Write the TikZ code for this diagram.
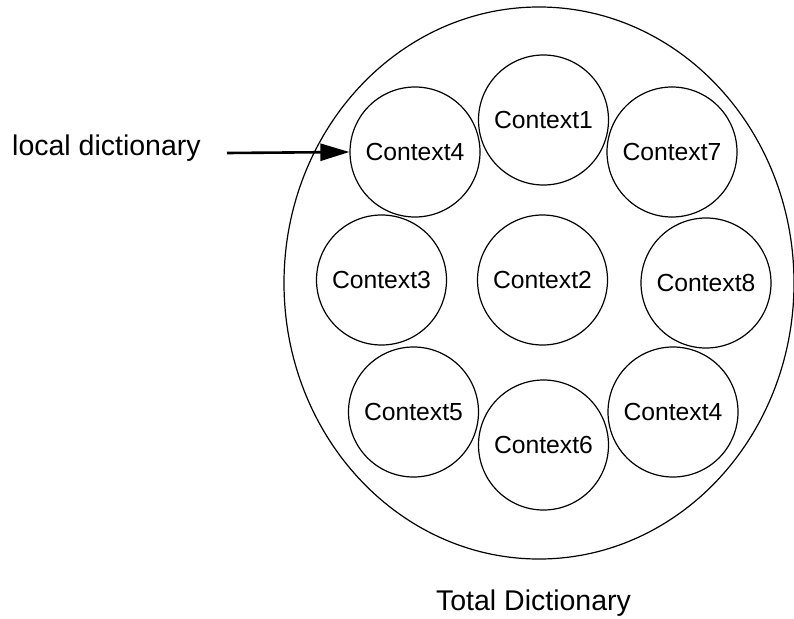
\documentclass[tikz,border=0pt]{standalone}
\usepackage{fontspec}
\setmainfont{Liberation Sans}
\usetikzlibrary{arrows.meta,shapes.geometric}
\begin{document}
\begin{tikzpicture}[x=1pt,y=-1pt,
  ctx/.style={draw, circle, line width=1.2pt, minimum size=130pt, inner sep=0pt,
    font=\fontsize{24.7}{28}\selectfont},
  lbl/.style={font=\fontsize{28.5}{32}\selectfont, inner sep=0pt}]
\useasboundingbox (0,0) rectangle (794,618);
\node[draw, ellipse, line width=1.2pt, minimum width=510pt, minimum height=552pt, inner sep=0pt] (total) at (539,283) {};
\node[ctx] (c1) at (543.5,120) {Context1};
\node[ctx] (c4a) at (415,152) {Context4};
\node[ctx] (c7) at (672,152) {Context7};
\node[ctx] (c3) at (381.5,280) {Context3};
\node[ctx] (c2) at (542.5,280) {Context2};
\node[ctx] (c8) at (706,283) {Context8};
\node[ctx] (c5) at (413.5,412) {Context5};
\node[ctx] (c6) at (543.5,445) {Context6};
\node[ctx] (c4b) at (673,412) {Context4};
\node[lbl, anchor=base west] (ld) at (12,155) {local dictionary};
\node[lbl, anchor=base] (td) at (533.5,610) {Total Dictionary};
\coordinate (arrstart) at (227,153);
\draw[line width=2.6pt, -{Triangle[length=29pt,width=17pt]}] (arrstart) -- (c4a.west);
\end{tikzpicture}
\end{document}
